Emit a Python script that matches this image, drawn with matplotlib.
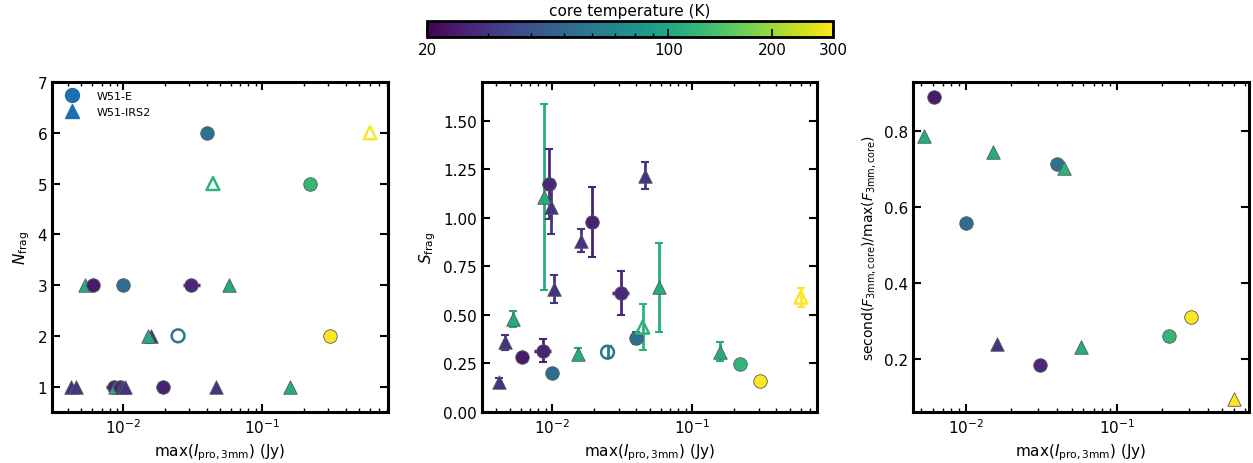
import numpy as np
import matplotlib
matplotlib.use("Agg")
import matplotlib.pyplot as plt
from matplotlib.colors import LogNorm
from matplotlib.cm import ScalarMappable
from matplotlib.lines import Line2D

# ---------------- data ----------------
region = ["E", "IRS2", "IRS2", "E", "IRS2", "E", "E", "E", "IRS2", "IRS2", "IRS2", "E",
          "E", "IRS2", "IRS2", "E", "IRS2", "E", "IRS2", "IRS2", "E", "IRS2", "IRS2"]
peak_jy = [0.040, 0.0444, 0.60, 0.221, 0.0053, 0.0061, 0.0100, 0.031, 0.058, 0.0160, 0.0152, 0.0249,
           0.308, 0.0042, 0.0046, 0.0086, 0.0088, 0.0095, 0.0099, 0.0104, 0.0193, 0.0465, 0.159]
n_frag = [6, 5, 6, 5, 3, 3, 3, 3, 3, 2, 2, 2,
          2, 1, 1, 1, 1, 1, 1, 1, 1, 1, 1]
s_frag = [0.380, 0.437, 0.591, 0.247, 0.479, 0.282, 0.201, 0.613, 0.643, 0.883, 0.299, 0.308,
          0.158, 0.153, 0.359, 0.316, 1.107, 1.175, 1.055, 0.634, 0.981, 1.218, 0.311]
s_frag_err = [0.03, 0.12, 0.05, 0.02, 0.04, 0.02, 0.02, 0.115, 0.23, 0.06, 0.03, 0.03,
              0.02, 0.02, 0.04, 0.06, 0.48, 0.18, 0.14, 0.07, 0.18, 0.07, 0.05]
x_err_dex = [0.04, 0, 0, 0, 0, 0, 0, 0.06, 0, 0, 0, 0,
             0, 0, 0, 0.06, 0, 0.05, 0, 0, 0, 0, 0]
flux_ratio = [0.713, 0.702, 0.095, 0.261, 0.788, 0.889, 0.557, 0.184, 0.233, 0.239, 0.746, np.nan,
              0.310, np.nan, np.nan, np.nan, np.nan, np.nan, np.nan, np.nan, np.nan, np.nan, np.nan]
core_temp = [55, 115, 300, 120, 105, 24, 52, 27, 105, 30, 105, 60,
             300, 30, 30, 26, 105, 27, 30, 30, 26, 30, 105]
open_marker = [False, True, True, False, False, False, False, False, False, False, False, True,
               False, False, False, False, False, False, False, False, False, False, False]

legend_labels = ["W51-E", "W51-IRS2"]
cbar_ticks = [20, 100, 200, 300]

# ---------------- figure ----------------
plt.rcParams["font.family"] = ["DejaVu Sans"]
fig = plt.figure(figsize=(12.53, 4.64), dpi=100)

norm = LogNorm(vmin=20, vmax=300)
cmap = plt.get_cmap("viridis")
marker_of = {"E": "o", "IRS2": "^"}

ax1 = fig.add_axes([0.0415, 0.110, 0.268, 0.711])
ax2 = fig.add_axes([0.3847, 0.110, 0.2674, 0.711])
ax3 = fig.add_axes([0.7287, 0.110, 0.268, 0.711])
cax = fig.add_axes([0.3408, 0.918, 0.324, 0.0345])


def draw(ax, yvals, yerr=None, allow_open=True, xerr=False):
    for i in range(len(peak_jy)):
        y = yvals[i]
        if np.isnan(y):
            continue
        x = peak_jy[i]
        col = cmap(norm(core_temp[i]))
        has_xe = xerr and x_err_dex[i] > 0
        if yerr is not None:
            ax.errorbar(x, y, yerr=yerr[i], fmt="none", ecolor=col,
                        elinewidth=2, capsize=3, capthick=1.5, zorder=2)
        if has_xe:
            xe = [[x - x / 10 ** x_err_dex[i]], [x * 10 ** x_err_dex[i] - x]]
            ax.errorbar(x, y, xerr=xe, fmt="none", ecolor=col,
                        elinewidth=2.5, capsize=0, zorder=2)
        if allow_open and open_marker[i]:
            ax.scatter([x], [y], marker=marker_of[region[i]], s=85,
                       facecolors="none", edgecolors=[col], linewidths=1.8, zorder=3)
        else:
            ax.scatter([x], [y], marker=marker_of[region[i]], s=95, c=[core_temp[i]],
                       cmap=cmap, norm=norm, edgecolors="0.35", linewidths=0.6, zorder=3)


draw(ax1, np.array(n_frag, dtype=float), xerr=True)
draw(ax2, np.array(s_frag), yerr=s_frag_err, xerr=True)
draw(ax3, np.array(flux_ratio), allow_open=False)

for ax in (ax1, ax2, ax3):
    ax.set_xscale("log")
    ax.tick_params(which="both", direction="in", top=True, right=True, labelsize=11)
    ax.tick_params(which="major", length=6, width=1.5)
    ax.tick_params(which="minor", length=3, width=1)
    for sp in ax.spines.values():
        sp.set_linewidth(2.2)
    ax.set_xlabel(r"max($I_{\rm pro,3mm}$) (Jy)", fontsize=11)

ax1.set_xlim(0.00308, 0.806)
ax2.set_xlim(0.00316, 0.782)
ax3.set_xlim(0.00446, 0.748)

ax1.set_ylim(0.5, 7)
ax1.set_yticks([1, 2, 3, 4, 5, 6, 7])
ax1.set_ylabel(r"$N_{\rm frag}$", fontsize=11)

ax2.set_ylim(0, 1.70)
ax2.set_yticks([0, 0.25, 0.5, 0.75, 1.0, 1.25, 1.5])
ax2.set_yticklabels(["0.00", "0.25", "0.50", "0.75", "1.00", "1.25", "1.50"])
ax2.set_ylabel(r"$S_{\rm frag}$", fontsize=11)

ax3.set_ylim(0.061, 0.929)
ax3.set_yticks([0.2, 0.4, 0.6, 0.8])
ax3.set_ylabel(r"second($F_{\rm 3mm,core}$)/max($F_{\rm 3mm,core}$)", fontsize=10)

handles = [Line2D([], [], ls="none", marker=marker_of["E"], color="#1f6fb0", markersize=10),
           Line2D([], [], ls="none", marker=marker_of["IRS2"], color="#1f6fb0", markersize=10)]
ax1.legend(handles, legend_labels, loc="upper left", frameon=False, fontsize=8,
           handletextpad=1.2, borderaxespad=0.4)

cb = fig.colorbar(ScalarMappable(norm=norm, cmap=cmap), cax=cax, orientation="horizontal")
cb.set_ticks(cbar_ticks)
cb.set_ticklabels([str(t) for t in cbar_ticks])
cb.ax.tick_params(which="both", direction="in", labelsize=11)
cb.ax.tick_params(which="major", length=6, width=1.2)
cb.ax.tick_params(which="minor", length=3, width=1)
cb.outline.set_linewidth(2)
cb.ax.xaxis.set_label_position("top")
cb.set_label("core temperature (K)", fontsize=11)

fig.savefig("out.png", dpi=100)
